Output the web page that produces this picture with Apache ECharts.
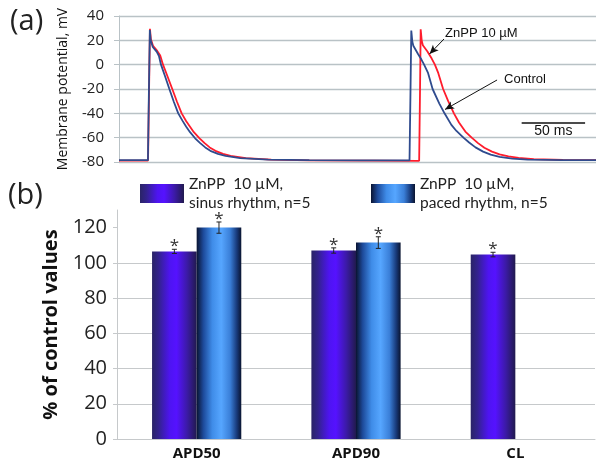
<!DOCTYPE html>
<html>
<head>
<meta charset="utf-8">
<script src="https://cdn.jsdelivr.net/npm/echarts@6/dist/echarts.min.js"></script>
<style>
html,body{margin:0;padding:0;background:#fff;}
#chart{width:600px;height:461px;}
</style>
</head>
<body>
<div id="chart"></div>
<script>
// ---------- Panel (a): action potentials ----------
const controlTime = [0, 22.8, 23.6, 24.3, 25.0, 26.6, 29.8, 31.5, 33.1, 36.3, 39.7, 43.2, 46.7, 50, 53, 56, 60, 64, 68, 72, 78, 84, 95.5, 117.6, 150, 190,
  229.0, 229.8, 230.4, 231.2, 232, 235.6, 238.5, 240.5, 243.5, 247.2, 252.5, 256.6, 262, 266, 271.5, 276, 281, 287, 293, 300, 310, 322, 350, 376];
const controlMv = [-78.5, -78.5, -20, 28.5, 20, 14.5, 10.5, 7, 0, -9.5, -20, -30.5, -40, -46, -51, -55.5, -60.5, -64.5, -68, -70.8, -73.3, -75, -76.8, -78, -78.5, -78.6,
  -78.7, -20, 28, 19, 15.5, 9, 4, 0, -6.5, -20, -32, -40, -49.5, -54.5, -60, -64, -68, -71.5, -74, -75.8, -77.2, -78, -78.4, -78.4];

const znppTime = [0, 22.9, 23.7, 24.4, 25.1, 26.8, 30, 32.5, 34.7, 38.2, 42, 45.7, 49.4, 53, 56, 59, 63.5, 67.5, 71.5, 76, 82, 88, 100, 120, 150, 200,
  236.6, 237.3, 237.8, 238.6, 239.5, 243, 246.5, 249, 251.7, 255.5, 259.5, 264, 268, 273, 278, 283, 288, 294, 300, 307, 315, 327, 350, 376];
const znppMv = [-78.8, -78.8, -20, 29.5, 21, 15.5, 11.5, 7.5, 0, -9.5, -20, -30.5, -40, -46.5, -51, -55.5, -60.5, -64.5, -68, -70.8, -73.3, -75, -76.8, -78, -78.6, -78.8,
  -79, -20, 29, 20, 16, 11, 5, 0, -7, -20, -30, -40, -47.5, -55, -60, -64.5, -68.3, -71.5, -73.7, -75.3, -76.6, -77.6, -78.2, -78.4];

// annotation anchors (ms, mV)
const znppArrow = [[256.2, 21.1], [244.8, 8.8]];
const controlArrow = [[298, -12.6], [257, -36.8]];
const scaleBar = [[317.4, -47.7], [367.4, -47.7]];
const znppLabelAt = [257, 26];
const controlLabelAt = [303.5, -11.8];
const scaleLabelAt = [342.4, -54.5];

// ---------- Panel (b): bar chart ----------
const categories = ['APD50', 'APD90', 'CL'];
const sinusValues = [106.5, 107, 104.7];
const sinusErrors = [1.2, 1.5, 1.3];
const pacedValues = [120, 111.5, null];
const pacedErrors = [3.2, 3.3, null];
const barTicks = [0, 20, 40, 60, 80, 100, 120];

const sinusName = 'ZnPP  10 µM,\nsinus rhythm, n=5';
const pacedName = 'ZnPP  10 µM,\npaced rhythm, n=5';

const zip = (a, b) => a.map((x, i) => [x, b[i]]);

const sinusGrad = {type: 'linear', x: 0, y: 0, x2: 1, y2: 0, colorStops: [
  {offset: 0, color: '#2a2466'}, {offset: 0.15, color: '#33228e'}, {offset: 0.4, color: '#4e14f2'},
  {offset: 0.55, color: '#5512ff'}, {offset: 0.78, color: '#3c1aa8'}, {offset: 1, color: '#211a4e'}]};
const pacedGrad = {type: 'linear', x: 0, y: 0, x2: 1, y2: 0, colorStops: [
  {offset: 0, color: '#0a1432'}, {offset: 0.15, color: '#1d4a9a'}, {offset: 0.35, color: '#3f8ce8'},
  {offset: 0.55, color: '#56a6ff'}, {offset: 0.75, color: '#3a7fd8'}, {offset: 0.9, color: '#183a7a'}, {offset: 1, color: '#0a1430'}]};

function errorSeries(values, errors, offset) {
  const data = [];
  values.forEach((v, i) => { if (v != null) data.push([i, v, errors[i]]); });
  return {
    type: 'custom', xAxisIndex: 1, yAxisIndex: 1, z: 5,
    encode: {x: 0, y: 1},
    data: data,
    renderItem: function (params, api) {
      const c = api.value(0), v = api.value(1), e = api.value(2);
      const band = api.size([1, 0])[0];
      const hi = api.coord([c, v + e]);
      const lo = api.coord([c, v - e]);
      const x = hi[0] + offset * band;
      const st = {stroke: '#222', lineWidth: 1};
      return {type: 'group', children: [
        {type: 'line', shape: {x1: x, y1: hi[1], x2: x, y2: lo[1]}, style: st},
        {type: 'line', shape: {x1: x - 2.5, y1: hi[1], x2: x + 2.5, y2: hi[1]}, style: st},
        {type: 'line', shape: {x1: x - 2.5, y1: lo[1], x2: x + 2.5, y2: lo[1]}, style: st},
        {type: 'text', style: {x: x, y: hi[1] - 3, text: '*', fill: '#333', font: 'normal 17px "Open Sans"', align: 'center', verticalAlign: 'middle'}}
      ]};
    }
  };
}

const gridColorA = '#b9c2c6';
const gridColorB = '#c6c9cb';
const chart = echarts.init(document.getElementById('chart'), null, {renderer: 'canvas'});

const legendText = {fontSize: 15.5, lineHeight: 19, color: '#222', fontFamily: 'Lato', padding: [5, 0, 0, 0]};

const option = {
  animation: false,
  backgroundColor: '#ffffff',
  title: [
    {text: '(a)', left: 5, top: 2, textStyle: {fontSize: 29, fontWeight: 'normal', color: '#222', fontFamily: 'Open Sans'}},
    {text: '(b)', left: 3, top: 176, textStyle: {fontSize: 29, fontWeight: 'normal', color: '#222', fontFamily: 'Open Sans'}}
  ],
  legend: [
    {data: [sinusName], left: 140, top: 172, padding: 0, icon: 'rect', itemWidth: 44, itemHeight: 19, itemGap: 0, selectedMode: false, textStyle: legendText},
    {data: [pacedName], left: 371, top: 172, padding: 0, icon: 'rect', itemWidth: 44, itemHeight: 19, itemGap: 0, selectedMode: false, textStyle: legendText}
  ],
  grid: [
    {left: 119, top: 16, width: 477, height: 146},
    {left: 117, top: 210, width: 478, height: 230}
  ],
  xAxis: [
    {gridIndex: 0, type: 'value', min: 0, max: 376, show: false},
    {gridIndex: 1, type: 'category', data: categories,
      axisLine: {lineStyle: {color: gridColorB, width: 1}}, axisTick: {show: false},
      axisLabel: {fontSize: 15, fontWeight: 'bold', color: '#111', fontFamily: 'Open Sans', margin: 7}}
  ],
  yAxis: [
    {gridIndex: 0, type: 'value', min: -80, max: 40, interval: 20,
      name: 'Membrane potential, mV', nameLocation: 'middle', nameGap: 49,
      nameTextStyle: {fontSize: 14, color: '#111', fontFamily: 'Open Sans'},
      axisLine: {show: true, lineStyle: {color: gridColorA}},
      axisTick: {show: true, length: 5, lineStyle: {color: gridColorA}},
      axisLabel: {fontSize: 15, color: '#222', fontFamily: 'Open Sans', margin: 15},
      splitLine: {show: true, lineStyle: {color: gridColorA, width: 1.3}}},
    {gridIndex: 1, type: 'value', min: 0, max: 130, interval: 20,
      name: '% of control values', nameLocation: 'middle', nameGap: 55,
      nameTextStyle: {fontSize: 20, fontWeight: 'bold', color: '#111', fontFamily: 'Open Sans'},
      axisLine: {show: true, lineStyle: {color: gridColorB}},
      axisTick: {show: true, length: 4, lineStyle: {color: gridColorB}, customValues: barTicks},
      axisLabel: {fontSize: 20, color: '#222', fontFamily: 'Open Sans', margin: 10, customValues: barTicks},
      splitLine: {show: true, showMaxLine: false, lineStyle: {color: gridColorB}}}
  ],
  series: [
    {name: 'ZnPP', type: 'line', xAxisIndex: 0, yAxisIndex: 0, data: zip(znppTime, znppMv),
      symbol: 'none', lineStyle: {color: '#ff1c2c', width: 1.8}, z: 2},
    {name: 'Control', type: 'line', xAxisIndex: 0, yAxisIndex: 0, data: zip(controlTime, controlMv),
      symbol: 'none', lineStyle: {color: '#2f4b8e', width: 1.8}, z: 3,
      markLine: {silent: true, animation: false, symbol: ['none', 'arrow'], symbolSize: [6, 9],
        lineStyle: {color: '#111', width: 1, type: 'solid'}, label: {show: false},
        data: [
          [{coord: znppArrow[0]}, {coord: znppArrow[1]}],
          [{coord: controlArrow[0]}, {coord: controlArrow[1]}],
          [{coord: scaleBar[0], symbol: 'none', lineStyle: {width: 1.6, color: '#111'}}, {coord: scaleBar[1], symbol: 'none'}]
        ]},
      markPoint: {silent: true, animation: false, symbol: 'circle', symbolSize: 0,
        label: {show: true, color: '#111', fontSize: 13, fontFamily: 'Liberation Sans'},
        data: [
          {coord: znppLabelAt, label: {position: 'right', distance: 0, formatter: 'ZnPP 10 µM'}},
          {coord: controlLabelAt, label: {position: 'right', distance: 0, formatter: 'Control'}},
          {coord: scaleLabelAt, label: {position: 'inside', formatter: '50 ms', fontSize: 14}}
        ]}},
    {name: sinusName, type: 'bar', xAxisIndex: 1, yAxisIndex: 1, data: sinusValues,
      barGap: '0%', barCategoryGap: '44%', itemStyle: {color: sinusGrad}},
    {name: pacedName, type: 'bar', xAxisIndex: 1, yAxisIndex: 1, data: pacedValues,
      barGap: '0%', barCategoryGap: '44%', itemStyle: {color: pacedGrad}},
    errorSeries(sinusValues, sinusErrors, -0.14),
    errorSeries(pacedValues, pacedErrors, 0.14)
  ]
};
chart.setOption(option);
</script>
</body>
</html>
